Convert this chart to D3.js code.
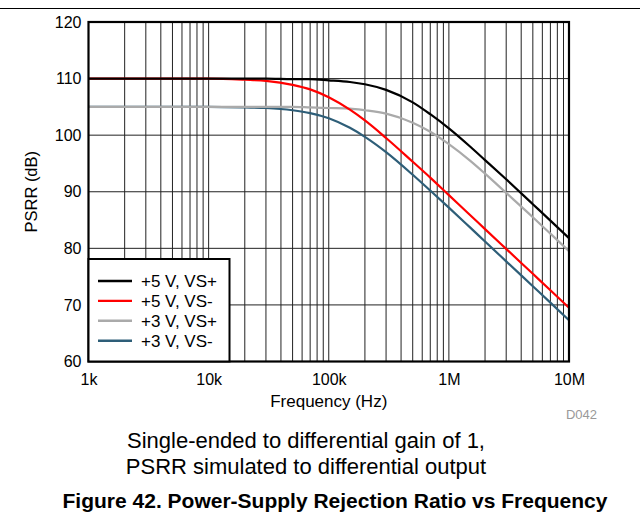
<!DOCTYPE html>
<html><head><meta charset="utf-8">
<script src="https://cdn.jsdelivr.net/npm/d3@7"></script>
<style>
body{margin:0;background:#fff;}
svg{display:block;font-family:"Liberation Sans",Arial,sans-serif;}
</style></head>
<body>
<svg id="chart" width="640" height="520"></svg>
<script>
const freqs = [1e3,1e4,2e4,3e4,5e4,7e4,1e5,1.5e5,2e5,3e5,5e5,7e5,1e6,1.5e6,2e6,3e6,5e6,7e6,1e7];
const black5p = [110.0,110.0,110.0,110.0,109.9,109.9,109.7,109.4,109.0,108.0,105.8,103.7,101.2,98.0,95.6,92.2,87.8,84.9,81.8];
const red5m   = [110.0,110.0,109.8,109.6,108.9,108.1,106.7,104.5,102.6,99.5,95.3,92.5,89.4,85.9,83.4,79.9,75.5,72.6,69.5];
const gray3p  = [105.0,105.0,105.0,105.0,105.0,104.9,104.8,104.7,104.4,103.8,102.2,100.6,98.4,95.5,93.2,89.8,85.5,82.6,79.5];
const blue3m  = [105.0,105.0,104.9,104.8,104.4,103.9,103.0,101.3,99.7,97.0,93.0,90.2,87.2,83.7,81.2,77.7,73.3,70.4,67.3];
const seriesNames = ["+5 V, VS+","+5 V, VS-","+3 V, VS+","+3 V, VS-"];
const seriesColors = ["#000000","#ff0000","#aaaaaa","#2e5e78"];
const xTickVals = [1e3,1e4,1e5,1e6,1e7];
const xTickLabels = ["1k","10k","100k","1M","10M"];
const yTickVals = [60,70,80,90,100,110,120];

const svg = d3.select("#chart");
const L=88.5, R=569, T=22, B=361.5;
const x = d3.scaleLog().domain([1e3,1e7]).range([L,R]);
const y = d3.scaleLinear().domain([60,120]).range([B,T]);

// top separator
svg.append("line").attr("x1",0).attr("x2",640).attr("y1",8.5).attr("y2",8.5).attr("stroke","#000").attr("stroke-width",1.2);

// grid
const minor = [];
for (let d=1e3; d<1e7; d*=10) for (let k=1;k<10;k++) minor.push(d*k);
minor.push(1e7);
svg.append("g").selectAll("line").data(minor).join("line")
  .attr("x1",d=>x(d)).attr("x2",d=>x(d)).attr("y1",T).attr("y2",B)
  .attr("stroke","#222").attr("stroke-width",1);
svg.append("g").selectAll("line").data(yTickVals).join("line")
  .attr("x1",L).attr("x2",R).attr("y1",d=>y(d)).attr("y2",d=>y(d))
  .attr("stroke","#222").attr("stroke-width",1);

// axes labels
const yAxis = d3.axisLeft(y).tickValues(yTickVals).tickSize(0).tickPadding(7).tickFormat(d3.format("d"));
const gy = svg.append("g").attr("transform",`translate(${L},0)`).call(yAxis);
gy.select(".domain").remove();
gy.selectAll("text").attr("font-size",16).attr("font-family","Liberation Sans, Arial, sans-serif").attr("fill","#000");

const xAxis = d3.axisBottom(x).tickValues(xTickVals).tickSize(0).tickPadding(12).tickFormat((d,i)=>xTickLabels[i]);
const gx = svg.append("g").attr("transform",`translate(0,${B})`).call(xAxis);
gx.select(".domain").remove();
gx.selectAll("text").attr("font-size",16).attr("font-family","Liberation Sans, Arial, sans-serif").attr("fill","#000");

// lines
const all = [black5p, red5m, gray3p, blue3m];
const line = d3.line().x((d,i)=>x(freqs[i])).y(d=>y(d)).curve(d3.curveMonotoneX);
const drawOrder = [3,2,1,0];
svg.append("g").selectAll("path").data(drawOrder).join("path")
  .attr("d",i=>line(all[i])).attr("fill","none")
  .attr("stroke",i=>seriesColors[i]).attr("stroke-width",2.2);

// frame
svg.append("rect").attr("x",L).attr("y",T).attr("width",R-L).attr("height",B-T)
  .attr("fill","none").attr("stroke","#000").attr("stroke-width",2.2);

// legend
const lg = svg.append("g");
lg.append("rect").attr("x",L).attr("y",259).attr("width",141).attr("height",B-259)
  .attr("fill","#fff").attr("stroke","#000").attr("stroke-width",2);
seriesNames.forEach((n,i)=>{
  const yy = 281 + i*19.9;
  lg.append("line").attr("x1",98).attr("x2",132).attr("y1",yy).attr("y2",yy)
    .attr("stroke",seriesColors[i]).attr("stroke-width",2.4);
  lg.append("text").attr("x",141).attr("y",yy+6).attr("font-size",17).text(n);
});

// axis titles
svg.append("text").attr("x",(L+R)/2).attr("y",407).attr("text-anchor","middle").attr("font-size",17).text("Frequency (Hz)");
svg.append("text").attr("transform",`translate(37,${(T+B)/2}) rotate(-90)`).attr("text-anchor","middle").attr("font-size",16.5).text("PSRR (dB)");
svg.append("text").attr("x",597).attr("y",419).attr("text-anchor","end").attr("font-size",13).attr("fill","#999").text("D042");

// caption
svg.append("text").attr("x",306).attr("y",448).attr("text-anchor","middle").attr("font-size",22).text("Single-ended to differential gain of 1,");
svg.append("text").attr("x",306).attr("y",474).attr("text-anchor","middle").attr("font-size",22).text("PSRR simulated to differential output");
svg.append("text").attr("x",335).attr("y",508).attr("text-anchor","middle").attr("font-size",21).attr("font-weight","bold").text("Figure 42. Power-Supply Rejection Ratio vs Frequency");
</script>
</body></html>
